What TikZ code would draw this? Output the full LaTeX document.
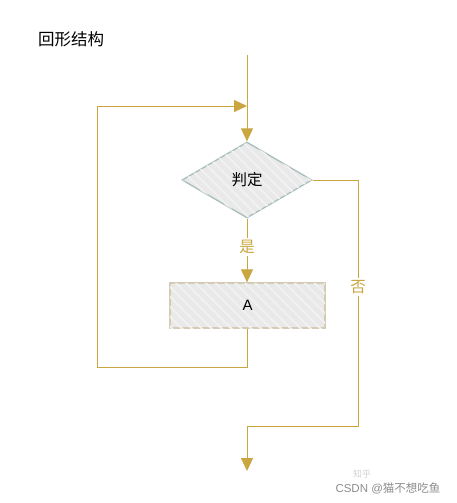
\documentclass[tikz,border=0pt]{standalone}
\usepackage{fontspec}
\newfontfamily\cjk{Noto Sans CJK SC}
\setmainfont{Liberation Sans}
\usetikzlibrary{shapes.geometric,arrows.meta,patterns.meta}
\definecolor{gold}{HTML}{C9A640}
\definecolor{boxfill}{HTML}{E9E9E9}
\definecolor{stripe}{HTML}{F1F1F1}
\definecolor{diastroke}{HTML}{A9BDBD}
\definecolor{boxstroke}{HTML}{D3CBB3}
\tikzset{
  flow/.style={draw=gold, line width=0.9pt},
  tip/.style={-{Triangle[width=12pt,length=13pt]}},
  stripes/.style={postaction={pattern={Lines[angle=135,distance=7pt,line width=2pt]}, pattern color=stripe}},
  decision/.style={diamond, aspect=1.71, minimum width=130pt, minimum height=76pt, inner sep=0pt,
    draw=diastroke, line width=1.3pt, fill=boxfill, font=\cjk\fontsize{15.5pt}{17pt}\selectfont, stripes},
  process/.style={rectangle, minimum width=155pt, minimum height=45pt, inner sep=0pt,
    draw=boxstroke, line width=1.3pt, fill=boxfill, font=\fontsize{15pt}{17pt}\selectfont, stripes},
  lbl/.style={text=gold, font=\cjk\fontsize{15.5pt}{17pt}\selectfont, fill=white, inner sep=2pt},
}
\begin{document}
\begin{tikzpicture}[x=1pt,y=-1pt]
\useasboundingbox (0,0) rectangle (457,503);
\node[font=\cjk\fontsize{16.5pt}{18pt}\selectfont, anchor=west, inner sep=0pt] (title) at (38,39) {回形结构};
\node[decision] (judge) at (247,180) {判定};
\node[process] (A) at (247.5,305.5) {A};
\coordinate (top) at (247,55);
\coordinate (loopA) at (247,367);
\coordinate (loopB) at (97,367);
\coordinate (loopC) at (97,106);
\coordinate (loopD) at (247,106);
\coordinate (r1) at (358,180);
\coordinate (r2) at (358,426);
\coordinate (r3) at (247,426);
\coordinate (endp) at (247,471);
\draw[flow,tip] (top) -- (judge.north);
\draw[flow,tip] (A.south -| loopA) -- (loopA) -- (loopB) -- (loopC) -- (loopD);
\draw[flow,tip] (judge.south) -- node[lbl, pos=0.45] (yes) {是} (A.north -| judge.south);
\draw[flow] (judge.east) -- (r1) -- node[lbl, pos=0.435] (no) {否} (r2) -- (r3);
\draw[flow,tip] (r3) -- (endp);
\node[text=black!45, font=\fontsize{11.5pt}{12pt}\selectfont, anchor=east] (wm) at (444,488) {CSDN @{\cjk 猫不想吃鱼}};
\node[text=black!18, font=\cjk\fontsize{9pt}{10pt}\selectfont, inner sep=0pt] (wm2) at (362,474) {知乎};
\end{tikzpicture}
\end{document}
